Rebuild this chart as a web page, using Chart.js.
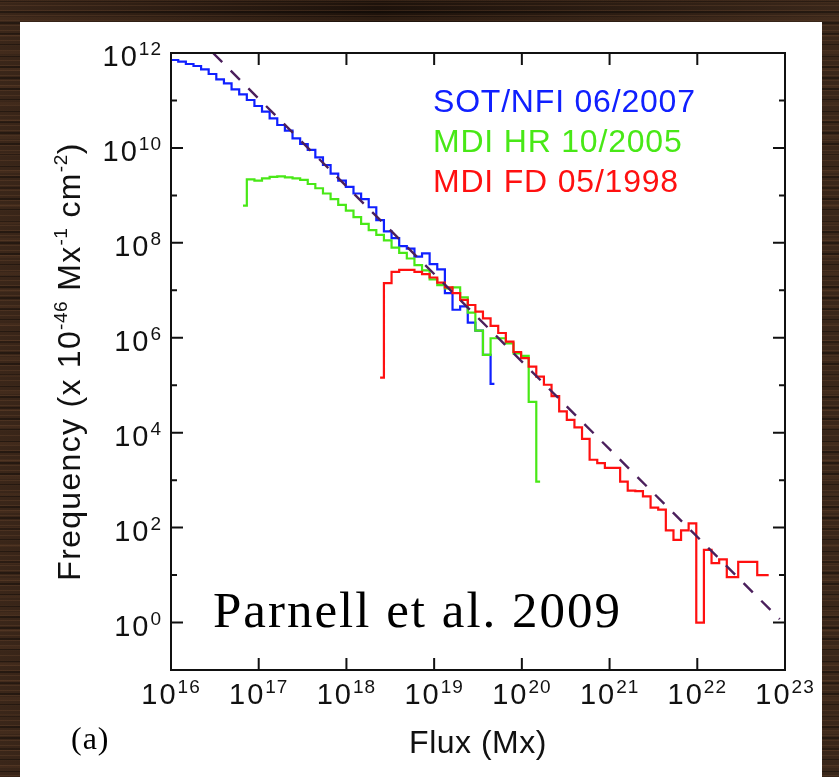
<!DOCTYPE html>
<html>
<head>
<meta charset="utf-8">
<script src="https://cdn.jsdelivr.net/npm/chart.js@4.4.1/dist/chart.umd.min.js"></script>
<style>
  html, body { margin: 0; padding: 0; }
  body {
    width: 839px; height: 777px; overflow: hidden; position: relative;
    background-color: #21140d;
    background-image:
      repeating-linear-gradient(180deg, rgba(120,80,52,0.28) 0px, rgba(120,80,52,0.28) 1px, transparent 1px, transparent 5px),
      repeating-linear-gradient(180deg, rgba(0,0,0,0.35) 0px, rgba(0,0,0,0.35) 2px, transparent 2px, transparent 11px),
      repeating-linear-gradient(180deg, rgba(90,58,36,0.25) 0px, rgba(90,58,36,0.25) 3px, transparent 3px, transparent 17px),
      linear-gradient(90deg, #3a2619, #1d120b 45%, #3a271a);
  }
  #panel { position: absolute; left: 20px; top: 22px; width: 802px; height: 755px; background: #fff; }
  #chart { position: absolute; left: 0; top: 0; }
</style>
</head>
<body>
<div id="panel"></div>
<canvas id="chart" width="839" height="777"></canvas>
<script>
// log10 of flux (Mx) at the bin centres shared by all three histograms
const binFlux = [
  15.952, 16.039, 16.126, 16.213, 16.300, 16.386, 16.473, 16.560, 16.647, 16.734,
  16.821, 16.908, 16.994, 17.081, 17.168, 17.255, 17.342, 17.429, 17.516, 17.602,
  17.689, 17.776, 17.863, 17.950, 18.037, 18.124, 18.211, 18.297, 18.384, 18.471,
  18.558, 18.645, 18.732, 18.819, 18.905, 18.992, 19.079, 19.166, 19.253, 19.340,
  19.427, 19.513, 19.600, 19.687, 19.774, 19.861, 19.948, 20.035, 20.121, 20.208,
  20.295, 20.382, 20.469, 20.556, 20.643, 20.729, 20.816, 20.903, 20.990, 21.077,
  21.164, 21.250, 21.337, 21.424, 21.511, 21.598, 21.685, 21.772, 21.858, 21.945,
  22.032, 22.119, 22.206, 22.293, 22.380, 22.466, 22.553, 22.640, 22.727, 22.814
];

// log10 of frequency, each series starts at its own bin index
const sotStart = 0;
const sotFreq = [
  11.86, 11.853, 11.817, 11.768, 11.726, 11.656, 11.558, 11.446, 11.361, 11.235,
  11.13, 11.01, 10.883, 10.764, 10.624, 10.483, 10.363, 10.20, 10.083, 9.957,
  9.80, 9.64, 9.46, 9.31, 9.18, 9.04, 8.92, 8.75, 8.48, 8.24,
  8.10, 7.93, 7.88, 7.71, 7.78, 7.55, 7.44, 6.94, 6.59, 6.66,
  6.32, 6.15, 5.64, 5.03
];

const hrStart = 10;
const hrFreq = [
  8.783, 9.339, 9.31, 9.36, 9.39, 9.40, 9.38, 9.36, 9.325, 9.24,
  9.15, 9.04, 8.92, 8.80, 8.68, 8.54, 8.40, 8.27, 8.17, 8.05,
  7.90, 7.79, 7.67, 7.53, 7.42, 7.23, 7.11, 7.04, 7.06, 6.85,
  6.53, 6.15, 5.64, 5.99, 5.99, 5.88, 5.67, 5.62, 4.65, 2.97
];

const fdStart = 28;
const fdFreq = [
  5.16, 7.15, 7.39, 7.43, 7.43, 7.39, 7.34, 7.27, 7.16, 7.06,
  6.94, 6.80, 6.69, 6.55, 6.41, 6.25, 6.10, 5.92, 5.70, 5.57,
  5.39, 5.18, 5.01, 4.77, 4.45, 4.27, 4.11, 3.87, 3.43, 3.36,
  3.26, 3.26, 2.97, 2.78, 2.77, 2.66, 2.42, 2.38, 1.94, 1.74,
  1.94, 2.09, 0.0, 1.53, 1.25, 1.33, 0.955, null, 1.28, null,
  null, 1.00
];

// power-law fit (dashed), log10 end points
const fitFlux = [16.479, 22.94];
const fitFreq = [12.0, 0.07];

const xTickExps = [16, 17, 18, 19, 20, 21, 22, 23];
const yTickExps = [0, 1, 2, 3, 4, 5, 6, 7, 8, 9, 10, 11, 12];
const yLabelExps = [0, 2, 4, 6, 8, 10, 12];

const legendItems = [
  { text: 'SOT/NFI 06/2007', color: '#1020ff' },
  { text: 'MDI HR 10/2005', color: '#48e816' },
  { text: 'MDI FD 05/1998', color: '#ff1010' }
];

const SANS = '"Liberation Sans", Arial, sans-serif';
const SERIF = '"Liberation Serif", "Times New Roman", serif';

function toPoints(start, freq) {
  return freq.map((v, i) => ({ x: 10 ** binFlux[start + i], y: v === null ? null : 10 ** v }));
}

// width of text drawn with a given letter spacing, measured without relying on canvas support
function textWidth(ctx, text, font, spacing) {
  ctx.font = font;
  ctx.letterSpacing = '0px';
  return ctx.measureText(text).width + spacing * text.length;
}

function drawText(ctx, text, font, spacing, x, y) {
  ctx.font = font;
  ctx.letterSpacing = spacing + 'px';
  ctx.fillText(text, x, y);
}

function powerLabel(ctx, exp, x, y, align) {
  const main = '29px ' + SANS, sup = '19px ' + SANS;
  const bw = textWidth(ctx, '10', main, 2);
  const sw = textWidth(ctx, String(exp), sup, 1);
  const total = bw + sw;
  const left = align === 'right' ? x - total : x - total / 2;
  ctx.textAlign = 'left';
  drawText(ctx, '10', main, 2, left, y);
  drawText(ctx, String(exp), sup, 1, left + bw, y - 11);
}

const idlFrame = {
  id: 'idlFrame',
  afterDatasetsDraw(chart) {
    const { ctx, chartArea: a, scales: { x, y } } = chart;
    ctx.save();
    ctx.strokeStyle = '#111';
    ctx.fillStyle = '#111';
    ctx.lineWidth = 2;
    ctx.strokeRect(a.left, a.top, a.right - a.left, a.bottom - a.top);

    ctx.beginPath();
    xTickExps.forEach(e => {
      const px = x.getPixelForValue(10 ** e);
      ctx.moveTo(px, a.bottom); ctx.lineTo(px, a.bottom - 12);
      ctx.moveTo(px, a.top); ctx.lineTo(px, a.top + 12);
    });
    yTickExps.forEach(e => {
      const py = y.getPixelForValue(10 ** e);
      const len = yLabelExps.includes(e) ? 12 : 6;
      ctx.moveTo(a.left, py); ctx.lineTo(a.left + len, py);
      ctx.moveTo(a.right, py); ctx.lineTo(a.right - len, py);
    });
    ctx.stroke();

    ctx.textBaseline = 'alphabetic';
    xTickExps.forEach(e => powerLabel(ctx, e, x.getPixelForValue(10 ** e), a.bottom + 34, 'center'));
    yLabelExps.forEach(e => powerLabel(ctx, e, a.left - 9, y.getPixelForValue(10 ** e) + 13, 'right'));

    // x title
    const titleFont = '32px ' + SANS;
    const fw = textWidth(ctx, 'Flux (Mx)', titleFont, 0.5);
    ctx.textAlign = 'left';
    drawText(ctx, 'Flux (Mx)', titleFont, 0.5, (a.left + a.right) / 2 - fw / 2, a.bottom + 83);

    // y title, rotated, with superscripts
    const parts = [
      ['Frequency (x 10', false], ['-46', true], [' Mx', false],
      ['-1', true], [' cm', false], ['-2', true], [')', false]
    ];
    const supFont = '19px ' + SANS;
    const ySpace = 1.3;
    const partW = ([t, sup]) => sup ? textWidth(ctx, t, supFont, 0.5) : textWidth(ctx, t, titleFont, ySpace);
    const total = parts.reduce((s, p) => s + partW(p), 0);
    ctx.translate(80, (a.top + a.bottom) / 2);
    ctx.rotate(-Math.PI / 2);
    let cx = -total / 2;
    parts.forEach(p => {
      const [t, sup] = p;
      if (sup) drawText(ctx, t, supFont, 0.5, cx, -13);
      else drawText(ctx, t, titleFont, ySpace, cx, 0);
      cx += partW(p);
    });
    ctx.setTransform(1, 0, 0, 1, 0, 0);

    // legend
    legendItems.forEach((item, i) => {
      ctx.fillStyle = item.color;
      drawText(ctx, item.text, titleFont, 0.8, 433, 112 + i * 40);
    });

    // annotations
    ctx.fillStyle = '#000';
    drawText(ctx, 'Parnell et al. 2009', '51px ' + SERIF, 2, 213, 627);
    drawText(ctx, '(a)', '32px ' + SERIF, 1, 71, 749);
    ctx.restore();
  }
};

new Chart(document.getElementById('chart'), {
  type: 'line',
  data: {
    datasets: [
      {
        label: 'fit',
        data: fitFlux.map((f, i) => ({ x: 10 ** f, y: 10 ** fitFreq[i] })),
        borderColor: '#4b1f5c',
        borderWidth: 2.4,
        borderDash: [13, 12],
        order: 0
      },
      {
        label: legendItems[2].text,
        data: toPoints(fdStart, fdFreq),
        borderColor: legendItems[2].color,
        borderWidth: 2.2,
        stepped: 'middle',
        spanGaps: true,
        order: 1
      },
      {
        label: legendItems[1].text,
        data: toPoints(hrStart, hrFreq),
        borderColor: legendItems[1].color,
        borderWidth: 2.2,
        stepped: 'middle',
        order: 2
      },
      {
        label: legendItems[0].text,
        data: toPoints(sotStart, sotFreq),
        borderColor: legendItems[0].color,
        borderWidth: 2.2,
        stepped: 'middle',
        order: 3
      }
    ]
  },
  options: {
    responsive: false,
    animation: false,
    devicePixelRatio: 1,
    layout: { padding: { left: 171, top: 53, right: 54, bottom: 107 } },
    elements: { point: { radius: 0 }, line: { tension: 0, fill: false } },
    plugins: { legend: { display: false }, tooltip: { enabled: false } },
    scales: {
      x: { type: 'logarithmic', min: 1e16, max: 1e23, display: false },
      y: { type: 'logarithmic', min: 0.1, max: 1e12, display: false }
    }
  },
  plugins: [idlFrame]
});
</script>
</body>
</html>
